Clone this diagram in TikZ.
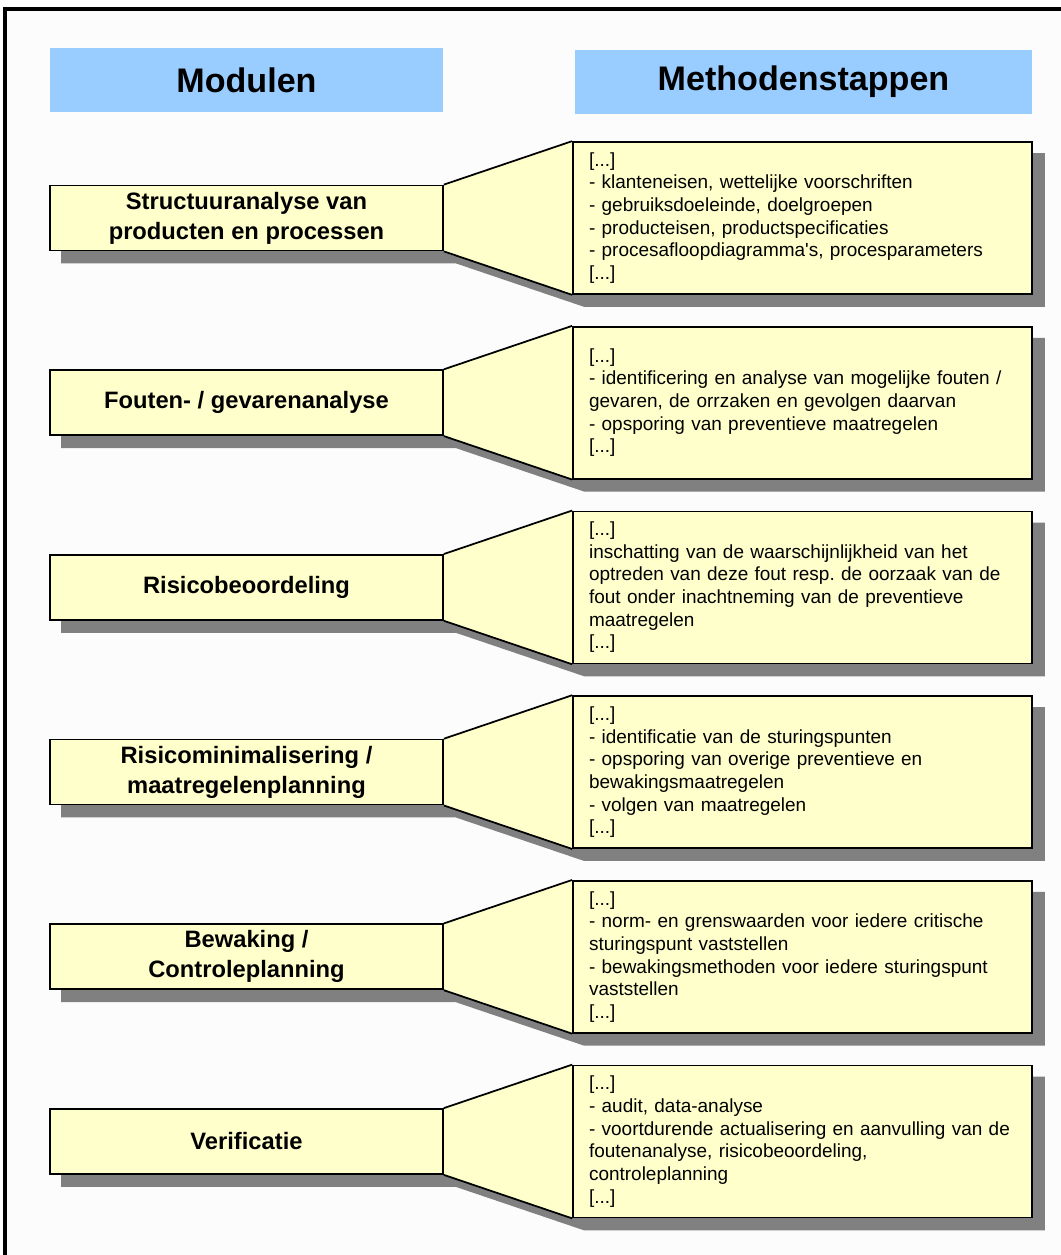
\documentclass[tikz,border=0pt]{standalone}
\usepackage{fontspec}
\setmainfont{Liberation Sans}
\usetikzlibrary{backgrounds}
\frenchspacing

\definecolor{kopblauw}{RGB}{153,204,255}
\definecolor{geel}{RGB}{255,255,204}
\definecolor{schaduw}{RGB}{128,128,128}
\definecolor{achtergrond}{RGB}{251,252,251}

\begin{document}
\begin{tikzpicture}[x=0.02cm,y=-0.02cm,
    kop/.style={fill=kopblauw,minimum height=1.28cm,inner sep=0pt,
        font=\fontsize{19.4}{23}\selectfont\bfseries},
    modul/.style={draw=black,line width=1pt,fill=geel,minimum width=7.86cm,
        minimum height=1.3cm,inner sep=0pt,align=center,
        font=\fontsize{13.5}{17}\selectfont\bfseries},
    stap/.style={draw=black,line width=1pt,fill=geel,text width=8.54cm,
        inner xsep=0.32cm,minimum height=3.04cm,align=left,
        font=\fontsize{10.8}{12.9}\selectfont},
    rand/.style={draw=black,line width=1pt}]
    \useasboundingbox (0,0) rectangle (1061,1255);

    % kopjes
    \node[kop,minimum width=7.86cm] (K1) at (246.5,80) {Modulen};
    \node[kop,minimum width=9.14cm] (K2) at (803.5,82) {Methodenstappen};

    % modulen
    \node[modul] (L1) at (246.5,218) {Structuuranalyse van\\producten en processen};
    \node[modul] (L2) at (246.5,402.7) {Fouten- / gevarenanalyse};
    \node[modul] (L3) at (246.5,587.4) {Risicobeoordeling};
    \node[modul] (L4) at (246.5,772.1) {Risicominimalisering /\\maatregelenplanning};
    \node[modul] (L5) at (246.5,956.8) {Bewaking /\\Controleplanning};
    \node[modul] (L6) at (246.5,1141.5) {Verificatie};

    % methodenstappen
    \node[stap] (R1) at (802.5,218) {[...]\\- klanteneisen, wettelijke voorschriften\\- gebruiksdoeleinde, doelgroepen\\- producteisen, productspecificaties\\- procesafloopdiagramma\textquotesingle s, procesparameters\\{[...]}};
    \node[stap] (R2) at (802.5,402.7) {[...]\\- identificering en analyse van mogelijke fouten /\\gevaren, de orrzaken en gevolgen daarvan\\- opsporing van preventieve maatregelen\\{[...]}};
    \node[stap] (R3) at (802.5,587.4) {[...]\\inschatting van de waarschijnlijkheid van het\\optreden van deze fout resp. de oorzaak van de\\fout onder inachtneming van de preventieve\\maatregelen\\{[...]}};
    \node[stap] (R4) at (802.5,772.1) {[...]\\- identificatie van de sturingspunten\\- opsporing van overige preventieve en\\bewakingsmaatregelen\\- volgen van maatregelen\\{[...]}};
    \node[stap] (R5) at (802.5,956.8) {[...]\\- norm- en grenswaarden voor iedere critische\\sturingspunt vaststellen\\- bewakingsmethoden voor iedere sturingspunt\\vaststellen\\{[...]}};
    \node[stap] (R6) at (802.5,1141.5) {[...]\\- audit, data-analyse\\- voortdurende actualisering en aanvulling van de\\foutenanalyse, risicobeoordeling,\\controleplanning\\{[...]}};

    \begin{pgfonlayer}{background}
        \fill[achtergrond] (5,9) rectangle (1061,1255);
        % schaduw
        \begin{scope}[transform canvas={shift={(12,12)}}]
            \foreach \i in {1,...,6} {
                \fill[schaduw] (L\i.north west) -- (L\i.north east) -- (R\i.north west)
                    -- (R\i.north east) -- (R\i.south east) -- (R\i.south west)
                    -- (L\i.south east) -- (L\i.south west) -- cycle;
            }
        \end{scope}
        \foreach \i in {1,...,6} {
            \fill[geel] (L\i.north east) -- (R\i.north west) -- (R\i.south west) -- (L\i.south east) -- cycle;
        }
    \end{pgfonlayer}

    % trechters
    \foreach \i in {1,...,6} {
        \draw[rand] (L\i.north east) -- (R\i.north west);
        \draw[rand] (L\i.south east) -- (R\i.south west);
    }

    \draw[line width=2.2pt] (5,1255) -- (5,9) -- (1061,9);
\end{tikzpicture}
\end{document}
